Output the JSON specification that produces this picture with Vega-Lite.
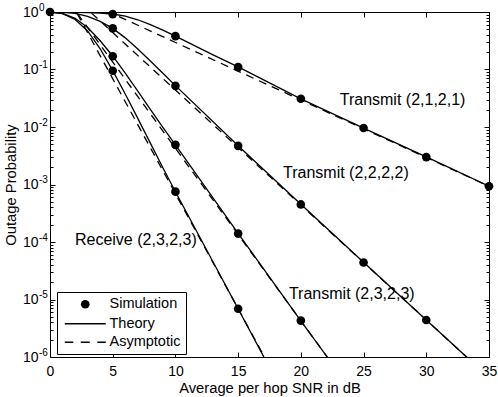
{
  "$schema": "https://vega.github.io/schema/vega-lite/v6.json",
  "width": 439,
  "height": 345,
  "autosize": {"type": "none"},
  "padding": {"left": 50, "top": 12, "right": 9, "bottom": 40},
  "background": "white",
  "config": {
    "font": "Liberation Sans",
    "view": {"stroke": "black", "strokeWidth": 1},
    "axis": {"labelFontSize": 14, "titleFontSize": 14.75, "labelColor": "black", "titleColor": "black", "titleFontWeight": "normal", "tickColor": "black", "tickWidth": 1, "domain": false, "grid": false, "labelFlush": false, "labelOverlap": false}
  },
  "datasets": {
    "theory": [
      {"curve": "A", "x": 0, "p": 1}, {"curve": "A", "x": 1, "p": 0.9954}, {"curve": "A", "x": 2, "p": 0.9886}, {"curve": "A", "x": 3, "p": 0.9772}, {"curve": "A", "x": 4, "p": 0.955}, {"curve": "A", "x": 5, "p": 0.9226}, {"curve": "A", "x": 6, "p": 0.8462}, {"curve": "A", "x": 7, "p": 0.7328}, {"curve": "A", "x": 8, "p": 0.6046}, {"curve": "A", "x": 9, "p": 0.4831}, {"curve": "A", "x": 10, "p": 0.3793}, {"curve": "A", "x": 11, "p": 0.2958}, {"curve": "A", "x": 12, "p": 0.2307}, {"curve": "A", "x": 13, "p": 0.1799}, {"curve": "A", "x": 14, "p": 0.1413}, {"curve": "A", "x": 15, "p": 0.1109}, {"curve": "A", "x": 20, "p": 0.0309}, {"curve": "A", "x": 25, "p": 0.00955}, {"curve": "A", "x": 30, "p": 0.00302}, {"curve": "A", "x": 35, "p": 0.000933},
      {"curve": "B", "x": 0, "p": 1}, {"curve": "B", "x": 1, "p": 0.9886}, {"curve": "B", "x": 2, "p": 0.9441}, {"curve": "B", "x": 3, "p": 0.8414}, {"curve": "B", "x": 4, "p": 0.6879}, {"curve": "B", "x": 5, "p": 0.5188}, {"curve": "B", "x": 6, "p": 0.3548}, {"curve": "B", "x": 7, "p": 0.2265}, {"curve": "B", "x": 8, "p": 0.1404}, {"curve": "B", "x": 9, "p": 0.0861}, {"curve": "B", "x": 10, "p": 0.05248}, {"curve": "B", "x": 15, "p": 0.004732}, {"curve": "B", "x": 20, "p": 0.0004519}, {"curve": "B", "x": 25, "p": 0.00004436}, {"curve": "B", "x": 30, "p": 0.000004395}, {"curve": "B", "x": 35, "p": 4.395e-7},
      {"curve": "C", "x": 0, "p": 1}, {"curve": "C", "x": 1, "p": 0.9441}, {"curve": "C", "x": 2, "p": 0.7762}, {"curve": "C", "x": 3, "p": 0.537}, {"curve": "C", "x": 4, "p": 0.3162}, {"curve": "C", "x": 5, "p": 0.1718}, {"curve": "C", "x": 6, "p": 0.0866}, {"curve": "C", "x": 7, "p": 0.04202}, {"curve": "C", "x": 8, "p": 0.02028}, {"curve": "C", "x": 9, "p": 0.009851}, {"curve": "C", "x": 10, "p": 0.004898}, {"curve": "C", "x": 15, "p": 0.0001413}, {"curve": "C", "x": 20, "p": 0.000004266}, {"curve": "C", "x": 23, "p": 5.37e-7},
      {"curve": "D", "x": 0, "p": 1}, {"curve": "D", "x": 1, "p": 0.9333}, {"curve": "D", "x": 2, "p": 0.7413}, {"curve": "D", "x": 3, "p": 0.4677}, {"curve": "D", "x": 4, "p": 0.2291}, {"curve": "D", "x": 5, "p": 0.0955}, {"curve": "D", "x": 6, "p": 0.03758}, {"curve": "D", "x": 7, "p": 0.01413}, {"curve": "D", "x": 8, "p": 0.005248}, {"curve": "D", "x": 9, "p": 0.001961}, {"curve": "D", "x": 10, "p": 0.0007499}, {"curve": "D", "x": 15, "p": 0.000006918}, {"curve": "D", "x": 18, "p": 4.074e-7}
    ],
    "asym": [
      {"curve": "A", "x": 0, "p": 1}, {"curve": "A", "x": 4.7, "p": 1}, {"curve": "A", "x": 35, "p": 0.000933},
      {"curve": "B", "x": 0, "p": 1}, {"curve": "B", "x": 3.215, "p": 1}, {"curve": "B", "x": 35, "p": 4.395e-7},
      {"curve": "C", "x": 0, "p": 1}, {"curve": "C", "x": 2.1, "p": 1}, {"curve": "C", "x": 23, "p": 5.37e-7},
      {"curve": "D", "x": 0, "p": 1}, {"curve": "D", "x": 2.1, "p": 1}, {"curve": "D", "x": 18, "p": 4.365e-7}
    ],
    "sim": [
      {"curve": "A", "kind": "Simulation", "x": 0, "p": 1}, {"curve": "A", "kind": "Simulation", "x": 5, "p": 0.92}, {"curve": "A", "kind": "Simulation", "x": 10, "p": 0.38}, {"curve": "A", "kind": "Simulation", "x": 15, "p": 0.11}, {"curve": "A", "kind": "Simulation", "x": 20, "p": 0.031}, {"curve": "A", "kind": "Simulation", "x": 25, "p": 0.0096}, {"curve": "A", "kind": "Simulation", "x": 30, "p": 0.003}, {"curve": "A", "kind": "Simulation", "x": 35, "p": 0.00093},
      {"curve": "B", "kind": "Simulation", "x": 5, "p": 0.52}, {"curve": "B", "kind": "Simulation", "x": 10, "p": 0.052}, {"curve": "B", "kind": "Simulation", "x": 15, "p": 0.0047}, {"curve": "B", "kind": "Simulation", "x": 20, "p": 0.00045}, {"curve": "B", "kind": "Simulation", "x": 25, "p": 0.000044}, {"curve": "B", "kind": "Simulation", "x": 30, "p": 0.0000044},
      {"curve": "C", "kind": "Simulation", "x": 5, "p": 0.17}, {"curve": "C", "kind": "Simulation", "x": 10, "p": 0.0049}, {"curve": "C", "kind": "Simulation", "x": 15, "p": 0.00014}, {"curve": "C", "kind": "Simulation", "x": 20, "p": 0.0000043},
      {"curve": "D", "kind": "Simulation", "x": 5, "p": 0.095}, {"curve": "D", "kind": "Simulation", "x": 10, "p": 0.00075}, {"curve": "D", "kind": "Simulation", "x": 15, "p": 0.0000069}
    ],
    "notes": [
      {"x": 23.1, "p": 0.0295, "text": "Transmit (2,1,2,1)"},
      {"x": 18.58, "p": 0.00158, "text": "Transmit (2,2,2,2)"},
      {"x": 19.05, "p": 0.0000125, "text": "Transmit (2,3,2,3)"},
      {"x": 1.99, "p": 0.000108, "text": "Receive (2,3,2,3)"}
    ],
    "yticks": [
      {"v": 0.000001}, {"v": 0.00001}, {"v": 0.0001}, {"v": 0.001}, {"v": 0.01}, {"v": 0.1}, {"v": 1}
    ]
  },
  "layer": [
    {
      "encoding": {
        "x": {"field": "x", "type": "quantitative", "scale": {"domain": [0, 35], "nice": false, "zero": false},
          "axis": {"values": [0, 5, 10, 15, 20, 25, 30, 35], "tickSize": -5, "labelPadding": 12, "title": "Average per hop SNR in dB", "titlePadding": 2}},
        "y": {"field": "p", "type": "quantitative", "scale": {"type": "log", "domain": [0.000001, 1], "nice": false},
          "axis": {"values": [0.000001, 0.000002, 0.000003, 0.000004, 0.000005, 0.000006, 0.000007, 0.000008, 0.000009, 0.00001, 0.00002, 0.00003, 0.00004, 0.00005, 0.00006, 0.00007, 0.00008, 0.00009, 0.0001, 0.0002, 0.0003, 0.0004, 0.0005, 0.0006, 0.0007, 0.0008, 0.0009, 0.001, 0.002, 0.003, 0.004, 0.005, 0.006, 0.007, 0.008, 0.009, 0.01, 0.02, 0.03, 0.04, 0.05, 0.06, 0.07, 0.08, 0.09, 0.1, 0.2, 0.3, 0.4, 0.5, 0.6, 0.7, 0.8, 0.9, 1],
            "tickSize": {"condition": {"test": "abs(log(datum.value)/LN10 - round(log(datum.value)/LN10)) < 0.001", "value": -5}, "value": -3},
            "labelPadding": 17,
            "labelExpr": "abs(log(datum.value)/LN10 - round(log(datum.value)/LN10)) < 0.001 ? '10' : ''",
            "title": "Outage Probability", "titlePadding": 4}}
      },
      "layer": [
        {"data": {"name": "theory"}, "mark": {"type": "line", "color": "black", "strokeWidth": 1.3, "clip": true},
          "encoding": {"detail": {"field": "curve"}}},
        {"data": {"name": "asym"}, "mark": {"type": "line", "color": "black", "strokeWidth": 1.3, "strokeDash": [8, 6], "clip": true},
          "encoding": {"detail": {"field": "curve"}}},
        {"data": {"name": "sim"}, "mark": {"type": "point", "filled": true, "size": 75, "color": "black", "opacity": 1},
          "encoding": {
            "shape": {"field": "kind", "type": "nominal",
              "scale": {"domain": ["Simulation", "Theory", "Asymptotic"], "range": ["circle", "M -4.73 -0.16 L 4.73 -0.16 L 4.73 0.16 L -4.73 0.16 Z", "M -4.73 -0.16 L -2.77 -0.16 L -2.77 0.16 L -4.73 0.16 Z M -1.04 -0.16 L 1.04 -0.16 L 1.04 0.16 L -1.04 0.16 Z M 2.77 -0.16 L 4.73 -0.16 L 4.73 0.16 L 2.77 0.16 Z"]},
              "legend": {"title": null, "orient": "none", "legendX": 7, "legendY": 280, "padding": 5, "strokeColor": "black", "fillColor": "white", "cornerRadius": 0, "symbolSize": 75, "symbolOffset": 16, "labelOffset": 17, "labelFontSize": 14.5, "labelColor": "black", "rowPadding": 3.5,
                "symbolFillColor": "black", "symbolOpacity": 1,
                "encode": {"symbols": {"update": {"fill": {"value": "black"}, "opacity": {"value": 1}, "fillOpacity": {"value": 1}}}}}}
          }},
        {"data": {"name": "notes"}, "mark": {"type": "text", "align": "left", "baseline": "middle", "fontSize": 16, "color": "black"},
          "encoding": {"text": {"field": "text"}}}
      ]
    },
    {
      "data": {"name": "yticks"},
      "mark": {"type": "point", "opacity": 0},
      "encoding": {
        "x": {"datum": 0, "type": "quantitative", "scale": {"domain": [0, 35], "nice": false, "zero": false},
          "axis": {"orient": "top", "values": [0, 5, 10, 15, 20, 25, 30, 35], "tickSize": -5, "labels": false, "title": null}},
        "y": {"field": "v", "type": "quantitative", "scale": {"type": "log", "domain": [0.000001, 1], "nice": false},
          "axis": {"orient": "right", "values": [0.000001, 0.000002, 0.000003, 0.000004, 0.000005, 0.000006, 0.000007, 0.000008, 0.000009, 0.00001, 0.00002, 0.00003, 0.00004, 0.00005, 0.00006, 0.00007, 0.00008, 0.00009, 0.0001, 0.0002, 0.0003, 0.0004, 0.0005, 0.0006, 0.0007, 0.0008, 0.0009, 0.001, 0.002, 0.003, 0.004, 0.005, 0.006, 0.007, 0.008, 0.009, 0.01, 0.02, 0.03, 0.04, 0.05, 0.06, 0.07, 0.08, 0.09, 0.1, 0.2, 0.3, 0.4, 0.5, 0.6, 0.7, 0.8, 0.9, 1],
            "tickSize": {"condition": {"test": "abs(log(datum.value)/LN10 - round(log(datum.value)/LN10)) < 0.001", "value": -5}, "value": -3},
            "labels": false, "title": null}}
      }
    },
    {
      "data": {"name": "yticks"},
      "mark": {"type": "point", "opacity": 0},
      "encoding": {
        "y": {"field": "v", "type": "quantitative", "scale": {"type": "log", "domain": [0.000001, 1], "nice": false},
          "axis": {"orient": "left", "values": [0.000001, 0.00001, 0.0001, 0.001, 0.01, 0.1, 1], "ticks": false, "tickSize": 0, "labelPadding": 11.5, "labelAlign": "left", "labelOffset": -5, "labelFontSize": 10, "labelColor": "black",
            "labelExpr": "['0','-1','-2','-3','-4','-5','-6'][abs(round(log(datum.value)/LN10))]", "title": null}}
      }
    }
  ],
  "resolve": {"scale": {"x": "independent", "y": "independent"}}
}
